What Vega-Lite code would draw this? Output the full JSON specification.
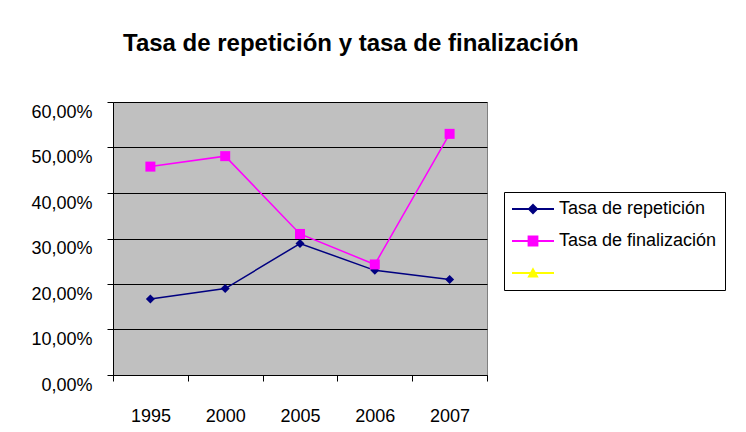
{
  "$schema": "https://vega.github.io/schema/vega-lite/v6.json",
  "width": 374,
  "height": 273,
  "autosize": {"type": "none"},
  "padding": {"left": 113, "top": 102, "right": 259, "bottom": 57},
  "background": "white",
  "title": {
    "text": "Tasa de repetición y tasa de finalización",
    "font": "Liberation Sans",
    "fontSize": 24,
    "fontWeight": "bold",
    "color": "black",
    "anchor": "start",
    "frame": "group",
    "dx": 10,
    "offset": 46
  },
  "config": {
    "font": "Liberation Sans",
    "view": {"fill": "#C0C0C0", "stroke": "#808080", "strokeWidth": 1},
    "axis": {
      "labelFont": "Liberation Sans",
      "labelFontSize": 18,
      "labelColor": "black",
      "domainColor": "black",
      "tickColor": "black",
      "tickSize": 6,
      "title": null
    },
    "legend": {
      "orient": "none", "legendX": 391, "legendY": 90,
      "strokeColor": "black", "fillColor": "white", "padding": 8,
      "symbolSize": 64, "symbolStrokeWidth": 2, "symbolOffset": 12,
      "labelOffset": 17, "labelFont": "Liberation Sans", "labelFontSize": 18,
      "labelColor": "black", "rowPadding": 14, "labelLimit": 300
    }
  },
  "data": {
    "values": [
      {"anio": "1995", "serie": "Tasa de repetición", "valor": 0.167},
      {"anio": "2000", "serie": "Tasa de repetición", "valor": 0.190},
      {"anio": "2005", "serie": "Tasa de repetición", "valor": 0.289},
      {"anio": "2006", "serie": "Tasa de repetición", "valor": 0.230},
      {"anio": "2007", "serie": "Tasa de repetición", "valor": 0.210},
      {"anio": "1995", "serie": "Tasa de finalización", "valor": 0.458},
      {"anio": "2000", "serie": "Tasa de finalización", "valor": 0.481},
      {"anio": "2005", "serie": "Tasa de finalización", "valor": 0.310},
      {"anio": "2006", "serie": "Tasa de finalización", "valor": 0.243},
      {"anio": "2007", "serie": "Tasa de finalización", "valor": 0.530}
    ]
  },
  "encoding": {
    "x": {
      "field": "anio",
      "type": "ordinal",
      "bandPosition": 0.5,
      "scale": {"type": "band", "paddingInner": 0, "paddingOuter": 0},
      "axis": {
        "labelAngle": 0,
        "tickBand": "extent",
        "labelPadding": 26,
        "grid": false
      }
    },
    "y": {
      "field": "valor",
      "type": "quantitative",
      "scale": {"domain": [0, 0.6], "nice": false, "zero": true},
      "axis": {
        "values": [0, 0.1, 0.2, 0.3, 0.4, 0.5, 0.6],
        "labelExpr": "replace(format(datum.value, '.2%'), '.', ',')",
        "labelOffset": 10,
        "labelPadding": 15,
        "grid": true,
        "gridColor": "black",
        "gridWidth": 1,
        "gridOpacity": 1
      }
    }
  },
  "layer": [
    {
      "mark": {"type": "line", "strokeWidth": 1.5},
      "encoding": {
        "color": {
          "field": "serie",
          "type": "nominal",
          "scale": {
            "domain": ["Tasa de repetición", "Tasa de finalización", ""],
            "range": ["#000080", "#FF00FF", "#FFFF00"]
          },
          "legend": {
            "title": null,
            "encode": {
              "symbols": {
                "update": {
                  "shape": {"signal": "datum.value === 'Tasa de repetición' ? 'M-5.25,0L5.25,0M0,-1L1,0L0,1L-1,0Z' : datum.value === 'Tasa de finalización' ? 'M-5.25,0L5.25,0M-1.1,-1.1L1.1,-1.1L1.1,1.1L-1.1,1.1Z' : 'M-5.25,0L5.25,0M0,-0.9L1,0.9L-1,0.9Z'"},
                  "fill": {"scale": "color", "field": "value"},
                  "stroke": {"scale": "color", "field": "value"},
                  "strokeWidth": {"value": 2},
                  "opacity": {"value": 1}
                }
              }
            }
          }
        }
      }
    },
    {
      "transform": [{"filter": "datum.serie === 'Tasa de repetición'"}],
      "mark": {"type": "point", "shape": "diamond", "filled": true, "size": 81, "opacity": 1},
      "encoding": {
        "color": {"field": "serie", "type": "nominal"}
      }
    },
    {
      "transform": [{"filter": "datum.serie === 'Tasa de finalización'"}],
      "mark": {"type": "point", "shape": "square", "filled": true, "size": 100, "opacity": 1},
      "encoding": {
        "color": {"field": "serie", "type": "nominal"}
      }
    }
  ]
}
